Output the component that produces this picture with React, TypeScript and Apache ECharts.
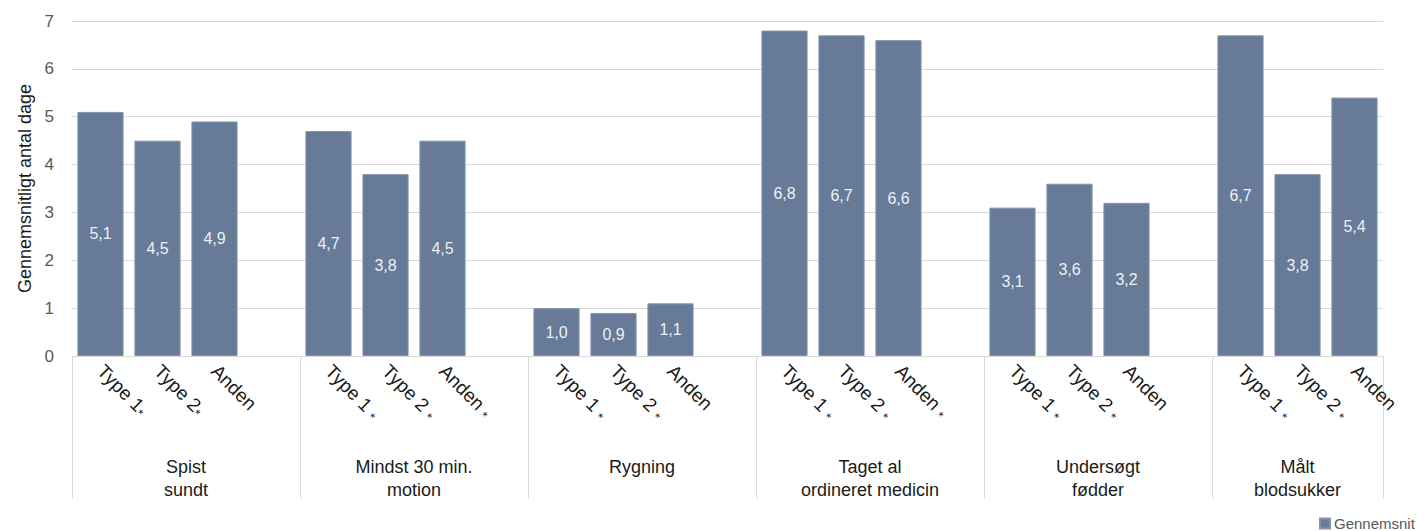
import React, { useEffect, useRef } from "react";
import * as echarts from "echarts";

// Group titles (x-axis second level)
const groupNames = [
  "Spist\nsundt",
  "Mindst 30 min.\nmotion",
  "Rygning",
  "Taget al\nordineret medicin",
  "Undersøgt\nfødder",
  "Målt\nblodsukker",
];

// Bar labels within each group
const spistSundtLabels = ["Type 1*", "Type 2*", "Anden"];
const motionLabels = ["Type 1 *", "Type 2 *", "Anden *"];
const rygningLabels = ["Type 1 *", "Type 2 *", "Anden"];
const medicinLabels = ["Type 1 *", "Type 2 *", "Anden *"];
const fodderLabels = ["Type 1 *", "Type 2 *", "Anden"];
const blodsukkerLabels = ["Type 1 *", "Type 2 *", "Anden"];

// Average number of days
const spistSundt = [5.1, 4.5, 4.9];
const motion = [4.7, 3.8, 4.5];
const rygning = [1.0, 0.9, 1.1];
const medicin = [6.8, 6.7, 6.6];
const fodder = [3.1, 3.6, 3.2];
const blodsukker = [6.7, 3.8, 5.4];

const yTicks = [0, 1, 2, 3, 4, 5, 6, 7];

const groupLabels = [
  spistSundtLabels,
  motionLabels,
  rygningLabels,
  medicinLabels,
  fodderLabels,
  blodsukkerLabels,
];
const groupValues = [spistSundt, motion, rygning, medicin, fodder, blodsukker];

// Flatten into one category axis with an empty slot between groups
const categories: string[] = [];
const values: (number | string)[] = [];
groupLabels.forEach((labels, gi) => {
  labels.forEach((l, i) => {
    categories.push(l);
    values.push(groupValues[gi][i]);
  });
  if (gi < groupLabels.length - 1) {
    categories.push("");
    values.push("-");
  }
});

// Group boundaries and centres on a continuous 0..N scale
const boundaries: number[] = [0];
const centres: number[] = [];
let pos = 0;
groupLabels.forEach((labels, gi) => {
  const span = labels.length + (gi < groupLabels.length - 1 ? 1 : 0);
  centres.push(pos + span / 2);
  pos += span;
  boundaries.push(pos);
});

const FONT = "'Liberation Sans', Arial, sans-serif";
const GRID_COLOR = "#d9d9d9";
const BAR_COLOR = "#677a98";

export default function App() {
  const ref = useRef<HTMLDivElement>(null);

  useEffect(() => {
    if (!ref.current) return;
    const chart = echarts.init(ref.current, null, { renderer: "svg" });
    chart.setOption({
      animation: false,
      textStyle: { fontFamily: FONT },
      grid: { left: 72, right: 42, top: 21, bottom: 175, containLabel: false },
      legend: {
        data: ["Gennemsnit"],
        left: 1319,
        top: 516,
        padding: 0,
        icon: "rect",
        itemWidth: 10,
        itemHeight: 10,
        itemGap: 5,
        textStyle: { fontSize: 15, color: "#595959", fontFamily: FONT, padding: [0, 0, 0, -1] },
      },
      xAxis: [
        {
          type: "category",
          data: categories,
          position: "bottom",
          axisLine: { show: true, lineStyle: { color: GRID_COLOR, width: 1 } },
          axisTick: { show: false },
          axisLabel: {
            interval: 0,
            rotate: -45,
            margin: 12,
            fontSize: 19,
            color: "#1a1a1a",
            fontFamily: FONT,
            formatter: (v: string) => v.replace("*", "{s|*}"),
            rich: {
              s: { fontSize: 13, color: "#1a1a1a", fontFamily: FONT, padding: [9, 0, 0, 0] },
            },
          },
        },
        {
          type: "value",
          position: "bottom",
          min: 0,
          max: pos,
          offset: 0,
          axisLine: { show: false },
          splitLine: { show: false },
          axisTick: {
            show: true,
            inside: false,
            length: 143,
            customValues: boundaries,
            lineStyle: { color: GRID_COLOR, width: 1 },
          },
          axisLabel: {
            show: true,
            customValues: centres,
            margin: 99,
            fontSize: 18,
            lineHeight: 23,
            color: "#1a1a1a",
            fontFamily: FONT,
            formatter: (v: number) => {
              const idx = centres.findIndex((c) => Math.abs(c - v) < 1e-6);
              return idx >= 0 ? groupNames[idx] : "";
            },
          },
        },
      ],
      yAxis: {
        type: "value",
        min: yTicks[0],
        max: yTicks[yTicks.length - 1],
        interval: 1,
        name: "Gennemsnitligt antal dage",
        nameLocation: "middle",
        nameGap: 35,
        nameTextStyle: { fontSize: 18, color: "#1a1a1a", fontFamily: FONT },
        axisLine: { show: false },
        axisTick: { show: false },
        axisLabel: { fontSize: 17, color: "#595959", margin: 18, fontFamily: FONT },
        splitLine: { show: true, lineStyle: { color: GRID_COLOR, width: 1 } },
      },
      series: [
        {
          name: "Gennemsnit",
          type: "bar",
          xAxisIndex: 0,
          data: values,
          barCategoryGap: "19%",
          itemStyle: { color: BAR_COLOR, borderColor: "#8193ae", borderWidth: 1 },
          label: {
            show: true,
            position: "inside",
            fontSize: 16,
            color: "#eef1f5",
            fontFamily: FONT,
            formatter: (p: any) => Number(p.value).toFixed(1).replace(".", ","),
          },
        },
      ],
    });
    return () => chart.dispose();
  }, []);

  return (
    <div
      ref={ref}
      style={{ position: "fixed", left: 0, top: 0, width: 1425, height: 531, background: "#fff" }}
    />
  );
}
